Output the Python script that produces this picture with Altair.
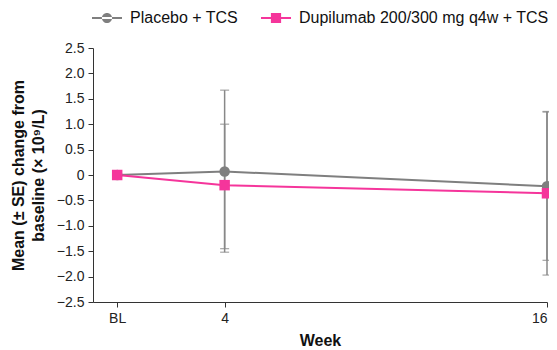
import altair as alt
import pandas as pd

weeks = [0, 4, 16]
series = ["Placebo + TCS", "Dupilumab 200/300 mg q4w + TCS"]
placebo_mean = [0.0, 0.07, -0.22]
placebo_upper = [0.0, 1.67, 1.24]
placebo_lower = [0.0, -1.52, -1.68]
dupi_mean = [0.0, -0.20, -0.36]
dupi_upper = [0.0, 1.00, 1.25]
dupi_lower = [0.0, -1.45, -1.97]
y_ticks = [-2.5, -2.0, -1.5, -1.0, -0.5, 0.0, 0.5, 1.0, 1.5, 2.0, 2.5]

rows = []
for name, m, u, l in [(series[0], placebo_mean, placebo_upper, placebo_lower),
                      (series[1], dupi_mean, dupi_upper, dupi_lower)]:
    for w, mm, uu, ll in zip(weeks, m, u, l):
        rows.append({"week": w, "group": name, "mean": mm, "upper": uu, "lower": ll})
df = pd.DataFrame(rows)
err = df[df["week"] > 0]

FONT = "Liberation Sans"
GRAY = "#7f7f7f"
PINK = "#f5359b"

# legend symbols: line with marker through it
circle_sym = ("M-1,-0.07H1V0.07H-1Z "
              "M-0.34,0A0.34,0.34 0 1,0 0.34,0A0.34,0.34 0 1,0 -0.34,0Z")
square_sym = ("M-1,-0.07H1V0.07H-1Z "
              "M-0.34,-0.34H0.34V0.34H-0.34Z")

x_axis = alt.Axis(values=weeks, title="Week",
                  labelExpr="datum.value == 0 ? 'BL' : datum.label")
y_axis = alt.Axis(values=y_ticks, labelOverlap=False,
                  labelExpr="datum.value == 0 ? '0' : format(datum.value, '.1f')",
                  title=["Mean (± SE) change from", "baseline (× 10⁹/L)"])
xs = alt.Scale(domain=[-0.9, 16], nice=False, zero=False)
ys = alt.Scale(domain=[-2.5, 2.5], nice=False)
x = alt.X("week:Q", scale=xs, axis=x_axis)
y = alt.Y("mean:Q", scale=ys, axis=y_axis)

color_scale = alt.Scale(domain=series, range=[GRAY, PINK])
legend = alt.Legend(
    title=None, orient="none", direction="horizontal",
    legendX=-1, legendY=-45, labelFontSize=16, labelFont=FONT, labelColor="#111",
    columnPadding=22, symbolSize=900, labelOffset=8, labelLimit=0,
    symbolStrokeWidth=0, symbolOpacity=1)
col_nolegend = alt.Color("group:N", scale=color_scale, legend=None)

base = alt.Chart(df)
rules = alt.Chart(err).mark_rule(color="#888888", strokeWidth=1.5).encode(
    x=x, y=alt.Y("lower:Q", scale=ys, axis=y_axis), y2="upper:Q")
caps_up = alt.Chart(err).mark_tick(color="#888888", thickness=1.3, size=9, orient="horizontal").encode(
    x=x, y=alt.Y("upper:Q", scale=ys, axis=y_axis))
caps_lo = alt.Chart(err).mark_tick(color="#888888", thickness=1.3, size=9, orient="horizontal").encode(
    x=x, y=alt.Y("lower:Q", scale=ys, axis=y_axis))
lines = base.mark_line(strokeWidth=2).encode(
    x=x, y=y, color=col_nolegend, detail="group:N", order="week:Q")
points = base.mark_point(filled=True, opacity=1, size=110).encode(
    x=x, y=y, color=col_nolegend,
    shape=alt.Shape("group:N", scale=alt.Scale(domain=series, range=["circle", "square"]),
                    legend=None))
legend_layer = base.mark_point(filled=True, opacity=0, size=1).encode(
    x=x, y=y,
    color=alt.Color("group:N", scale=color_scale, legend=legend),
    shape=alt.Shape("group:N", scale=alt.Scale(domain=series, range=[circle_sym, square_sym]),
                    legend=legend))

chart = alt.layer(lines, rules, caps_up, caps_lo, points, legend_layer).resolve_scale(
    shape="independent", color="independent"
).properties(
    width=454, height=254,
    padding={"left": 85, "top": 40, "right": 2, "bottom": 48},
    autosize=alt.AutoSizeParams(type="none")
).configure_view(stroke=None).configure_axis(
    grid=False, domainColor="#333", tickColor="#333", labelFont=FONT, titleFont=FONT,
    labelFontSize=14, titleFontSize=16, labelColor="#222", titleColor="#111",
    tickSize=5, labelPadding=4, labelOverlap=False
).configure_axisY(titlePadding=10, titleLineHeight=20).configure_axisX(titlePadding=7)

chart.save("out.html", embed_options={"renderer": "svg", "actions": False})
